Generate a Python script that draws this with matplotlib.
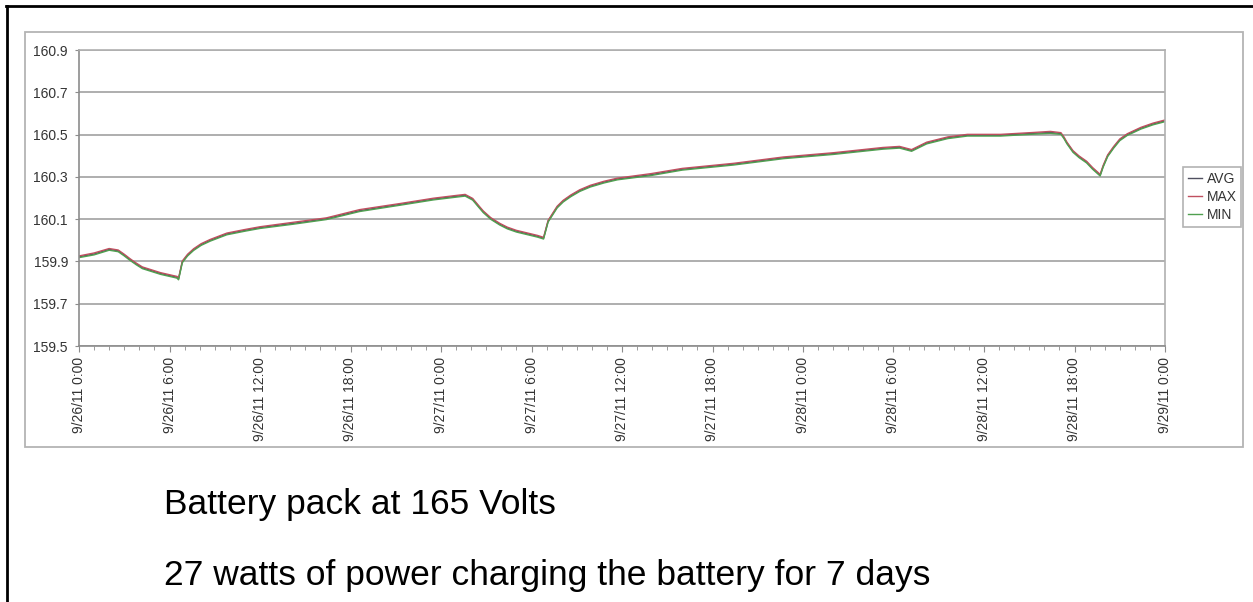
import matplotlib
matplotlib.use("Agg")
import matplotlib.pyplot as plt
from matplotlib.patches import Rectangle
from matplotlib.lines import Line2D
from matplotlib.ticker import MultipleLocator

plt.rcParams['font.family'] = ['Liberation Sans', 'DejaVu Sans']

# hours since 9/26/11 0:00
hours = [0, 1.0, 2.0, 2.6, 3.0, 3.4, 3.8, 4.2, 5.4, 6.5,
         6.6, 6.85, 7.2, 7.6, 8.1, 8.7, 9.8, 11.0, 12.0, 14.2,
         16.4, 18.6, 21.3, 23.5, 25.0, 25.6, 26.1, 26.5, 26.8, 27.3,
         27.9, 28.4, 29.0, 30.4, 30.8, 31.1, 31.7, 32.1, 32.6, 33.2,
         33.9, 34.8, 35.7, 37.9, 40.0, 43.4, 46.7, 50.0, 53.3, 54.4,
         55.2, 56.2, 57.6, 58.9, 61.1, 63.3, 64.4, 65.1, 65.3, 65.5,
         65.9, 66.3, 66.8, 67.2, 67.7, 67.9, 68.2, 68.6, 69.0, 69.5,
         70.4, 71.2, 72.0]

avg = [159.922, 159.935, 159.957, 159.950, 159.930, 159.908, 159.888, 159.870, 159.843, 159.825,
       159.817, 159.898, 159.930, 159.956, 159.980, 160.000, 160.030, 160.047, 160.060, 160.080,
       160.102, 160.140, 160.170, 160.195, 160.208, 160.213, 160.194, 160.160, 160.135, 160.103,
       160.076, 160.058, 160.043, 160.019, 160.010, 160.090, 160.157, 160.185, 160.210, 160.235,
       160.256, 160.275, 160.290, 160.310, 160.336, 160.360, 160.390, 160.410, 160.435, 160.440,
       160.425, 160.460, 160.485, 160.497, 160.497, 160.506, 160.510, 160.505, 160.485, 160.460,
       160.420, 160.395, 160.370, 160.340, 160.308, 160.350, 160.400, 160.440, 160.475, 160.500,
       160.530, 160.550, 160.565]

vmax = [159.926, 159.940, 159.961, 159.954, 159.934, 159.912, 159.892, 159.874, 159.847, 159.829,
        159.821, 159.902, 159.934, 159.960, 159.984, 160.004, 160.034, 160.051, 160.064, 160.085,
        160.106, 160.145, 160.174, 160.199, 160.212, 160.217, 160.198, 160.164, 160.139, 160.107,
        160.080, 160.062, 160.047, 160.023, 160.014, 160.094, 160.161, 160.189, 160.214, 160.239,
        160.260, 160.279, 160.294, 160.315, 160.340, 160.364, 160.394, 160.414, 160.439, 160.444,
        160.429, 160.464, 160.489, 160.501, 160.501, 160.510, 160.515, 160.509, 160.489, 160.464,
        160.424, 160.399, 160.374, 160.344, 160.312, 160.354, 160.404, 160.444, 160.479, 160.504,
        160.534, 160.554, 160.569]

vmin = [159.918, 159.931, 159.953, 159.946, 159.926, 159.904, 159.884, 159.866, 159.839, 159.821,
        159.813, 159.894, 159.926, 159.952, 159.976, 159.996, 160.026, 160.043, 160.056, 160.076,
        160.098, 160.136, 160.166, 160.191, 160.204, 160.209, 160.190, 160.156, 160.131, 160.099,
        160.072, 160.054, 160.039, 160.015, 160.006, 160.086, 160.153, 160.181, 160.206, 160.231,
        160.252, 160.271, 160.286, 160.306, 160.332, 160.356, 160.386, 160.406, 160.431, 160.436,
        160.421, 160.456, 160.481, 160.493, 160.493, 160.502, 160.506, 160.501, 160.481, 160.456,
        160.416, 160.391, 160.366, 160.336, 160.304, 160.346, 160.396, 160.436, 160.471, 160.496,
        160.526, 160.546, 160.561]

xlabels = ['9/26/11 0:00', '9/26/11 6:00', '9/26/11 12:00', '9/26/11 18:00',
           '9/27/11 0:00', '9/27/11 6:00', '9/27/11 12:00', '9/27/11 18:00',
           '9/28/11 0:00', '9/28/11 6:00', '9/28/11 12:00', '9/28/11 18:00',
           '9/29/11 0:00']
yticks = [159.5, 159.7, 159.9, 160.1, 160.3, 160.5, 160.7, 160.9]

W, H = 1253, 602
fig = plt.figure(figsize=(W / 100, H / 100), dpi=100)

def fx(px):
    return px / W

def fy(py):
    return 1 - py / H

# black page border (top and left)
fig.add_artist(Line2D([fx(6), 1], [fy(5.5), fy(5.5)], color='black', lw=2))
fig.add_artist(Line2D([fx(6.5), fx(6.5)], [fy(5.5), 0], color='black', lw=2))

# gray chart frame
fig.add_artist(Rectangle((fx(25), fy(447)), fx(1243) - fx(25), fy(32) - fy(447),
                         fill=False, edgecolor='#b4b4b4', lw=1.3))

ax = fig.add_axes([fx(79), fy(346), fx(1165) - fx(79), fy(50) - fy(346)])
ax.plot(hours, avg, color='#505060', lw=1.0, label='AVG')
ax.plot(hours, vmax, color='#c05060', lw=1.0, label='MAX')
ax.plot(hours, vmin, color='#50a050', lw=1.0, label='MIN')

ax.set_xlim(0, 72)
ax.set_ylim(159.5, 160.9)
ax.set_yticks(yticks)
ax.set_yticklabels(['%.1f' % v for v in yticks])
ax.set_xticks(range(0, 73, 6))
ax.set_xticklabels(xlabels, rotation=90, va='top', ha='center')
ax.xaxis.set_minor_locator(MultipleLocator(1))

ax.grid(axis='y', color='#a8a8a8', lw=1.3)
ax.set_axisbelow(True)
for s in ['top', 'right']:
    ax.spines[s].set_color('#b0b0b0')
    ax.spines[s].set_linewidth(1.2)
for s in ['left', 'bottom']:
    ax.spines[s].set_color('#8c8c8c')
    ax.spines[s].set_linewidth(1.2)

ax.tick_params(axis='both', which='both', direction='out', colors='#8c8c8c',
               labelcolor='#333333', labelsize=10)
ax.tick_params(axis='x', which='major', length=4, pad=4)
ax.tick_params(axis='x', which='minor', length=3)
ax.tick_params(axis='y', length=3, pad=5)

leg = fig.legend(loc='center left', bbox_to_anchor=(fx(1183), fy(197)),
                 fontsize=10, handlelength=1.0, handletextpad=0.35,
                 labelspacing=0.3, borderpad=0.35, borderaxespad=0,
                 frameon=True, fancybox=False)
leg.get_frame().set_edgecolor('#a0a0a0')
leg.get_frame().set_linewidth(1.2)
for t in leg.get_texts():
    t.set_color('#333333')

fig.text(fx(164), fy(514), 'Battery pack at 165 Volts', fontsize=25.5,
         va='baseline', ha='left', color='black')
fig.text(fx(164), fy(585), '27 watts of power charging the battery for 7 days',
         fontsize=25.5, va='baseline', ha='left', color='black')

fig.savefig('out.png', dpi=100)
